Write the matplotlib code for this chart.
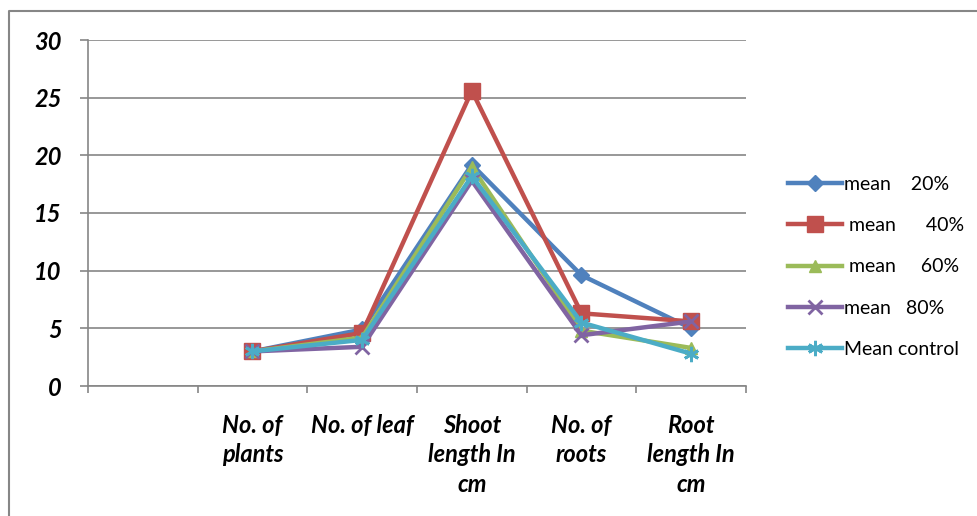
import matplotlib
matplotlib.use("Agg")
import matplotlib.pyplot as plt
from matplotlib.lines import Line2D

categories = ["", "No. of\nplants", "No. of leaf", "Shoot\nlength In\ncm", "No. of\nroots", "Root\nlength In\ncm"]
series_names = ["mean    20%", " mean      40%", " mean     60%", "mean   80%", "Mean control"]
mean_20 = [None, 3.0, 4.9, 19.2, 9.6, 5.0]
mean_40 = [None, 3.0, 4.6, 25.6, 6.3, 5.6]
mean_60 = [None, 3.0, 4.2, 19.0, 4.8, 3.3]
mean_80 = [None, 3.0, 3.4, 17.8, 4.4, 5.6]
mean_control = [None, 3.0, 4.0, 18.2, 5.5, 2.8]
y_ticks = [0, 5, 10, 15, 20, 25, 30]

colors = ["#4F81BD", "#C0504D", "#9BBB59", "#8064A2", "#4BACC6"]
markers = ["D", "s", "^", "x", (6, 2, 0)]
msizes = [8, 11, 9, 10, 11]

tick_kw = dict(fontfamily="Lato", fontweight="bold", fontstyle="italic")

fig = plt.figure(figsize=(9.78, 5.16), dpi=100)
ax = fig.add_axes([88 / 978, 1 - 386 / 516, (746 - 88) / 978, (386 - 40) / 516])

# outer chart border (left and top edges only are visible)
border = Line2D([8.5 / 978, 8.5 / 978, 1.0], [0.0, 1 - 10.5 / 516, 1 - 10.5 / 516],
                transform=fig.transFigure, color="#868686", linewidth=1.5)
fig.lines.append(border)

x = list(range(len(categories)))
all_series = [mean_20, mean_40, mean_60, mean_80, mean_control]
for vals, name, c, m, ms in zip(all_series, series_names, colors, markers, msizes):
    xs = [xi for xi, v in zip(x, vals) if v is not None]
    ys = [v for v in vals if v is not None]
    ax.plot(xs, ys, color=c, linewidth=3.2, marker=m, markersize=ms,
            markeredgewidth=2 if m in ("x", (6, 2, 0)) else 1, markeredgecolor=c,
            label=name)

ax.set_xlim(-0.5, len(categories) - 0.5)
ax.set_ylim(0, 30)
ax.set_yticks(y_ticks)
ax.set_yticklabels([str(v) for v in y_ticks], fontsize=17, **tick_kw)
ax.yaxis.grid(True, color="#868686", linewidth=1.2)
ax.set_axisbelow(True)

ax.set_xticks([i - 0.5 for i in range(len(categories) + 1)], minor=False)
ax.set_xticklabels([])
ax.set_xticks(x, minor=True)
ax.set_xticklabels(categories, minor=True, fontsize=17, linespacing=1.35,
                   va="top", **tick_kw)
ax.tick_params(axis="x", which="minor", length=0, pad=20)
ax.tick_params(axis="x", which="major", length=5, color="#868686", width=1.2)
ax.tick_params(axis="y", length=6, color="#868686", width=1.2, pad=13)

for side in ["top", "right"]:
    ax.spines[side].set_visible(False)
ax.spines["left"].set_color("#868686")
ax.spines["bottom"].set_color("#868686")
ax.spines["left"].set_linewidth(1.2)
ax.spines["bottom"].set_linewidth(1.2)

leg = ax.legend(loc="center left", bbox_to_anchor=(780 / 978, 1 - 267 / 516),
                bbox_transform=fig.transFigure, frameon=False,
                prop={"family": "Lato", "size": 14}, handlelength=2.8,
                labelspacing=1.25, handletextpad=0.1, borderaxespad=0)

fig.savefig("out.png", dpi=100)
